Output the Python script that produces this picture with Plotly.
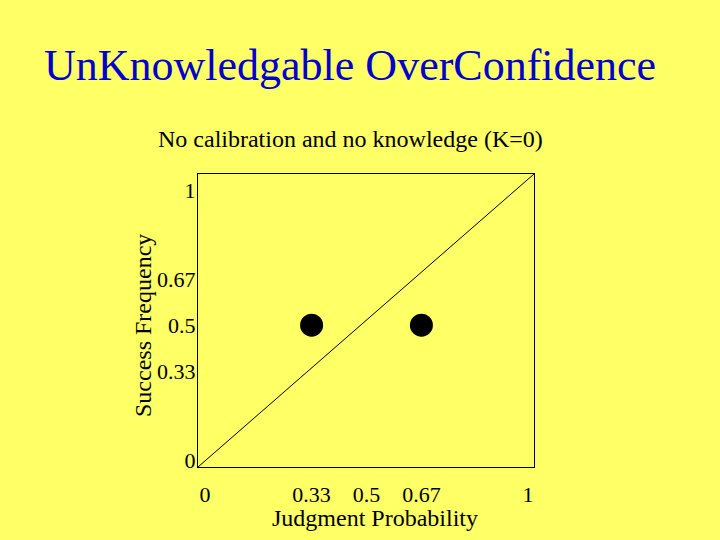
import plotly.graph_objects as go

# ── Data ──────────────────────────────────────────────────────────────────────

judgment_prob = [0.33, 0.67]
success_freq = [0.5, 0.5]

tick_vals = [0, 0.33, 0.5, 0.67, 1]
tick_text = ["0", "0.33", "0.5", "0.67", "1"]

title_text = "UnKnowledgable OverConfidence"
subtitle_text = "No calibration and no knowledge (K=0)"

BG = "#FFFF66"
SERIF = "Liberation Serif, Times New Roman, serif"

# plot box in pixels (left, right, top, bottom)
BOX_L, BOX_R, BOX_T, BOX_B = 198, 534, 174, 467


def px_to_paper(px, py):
    return (px - BOX_L) / (BOX_R - BOX_L), (BOX_B - py) / (BOX_B - BOX_T)


# ── Figure ────────────────────────────────────────────────────────────────────

fig = go.Figure()
fig.add_trace(go.Scatter(
    x=judgment_prob, y=success_freq,
    mode="markers",
    marker=dict(color="black", size=23),
    showlegend=False,
    cliponaxis=False,
))

# perfect-calibration diagonal, corner to corner of the box
fig.add_shape(
    type="line", xref="x domain", yref="y domain",
    x0=0, y0=0, x1=1, y1=1,
    line=dict(color="black", width=1),
)

axis_common = dict(
    showgrid=False, zeroline=False,
    showline=True, mirror=True, linecolor="black", linewidth=1,
    tickvals=tick_vals, ticktext=tick_text, ticks="",
    tickfont=dict(family=SERIF, size=22, color="black"),
)

fig.update_xaxes(range=[-0.0217, 1.0186], ticklabelstandoff=8, **axis_common)
fig.update_yaxes(range=[-0.025, 1.06], ticklabelstandoff=-3, **axis_common)


def label(text, px, py, size, color="black", angle=0):
    x, y = px_to_paper(px, py)
    fig.add_annotation(
        text=text, xref="paper", yref="paper", x=x, y=y,
        xanchor="center", yanchor="middle", textangle=angle,
        showarrow=False, font=dict(family=SERIF, size=size, color=color),
    )


label(title_text, 350, 65, 44, color="#0000CC")
label(subtitle_text, 350, 139, 24)
label("Judgment Probability", 375, 518, 24)
label("Success Frequency", 143, 326, 24, angle=-90)

fig.update_layout(
    width=720, height=540,
    margin=dict(l=BOX_L, r=720 - BOX_R, t=BOX_T, b=540 - BOX_B),
    paper_bgcolor=BG, plot_bgcolor=BG,
)

fig.write_html(
    "out.html",
    config={"displayModeBar": False},
    post_script="document.body.style.margin='0';",
)
